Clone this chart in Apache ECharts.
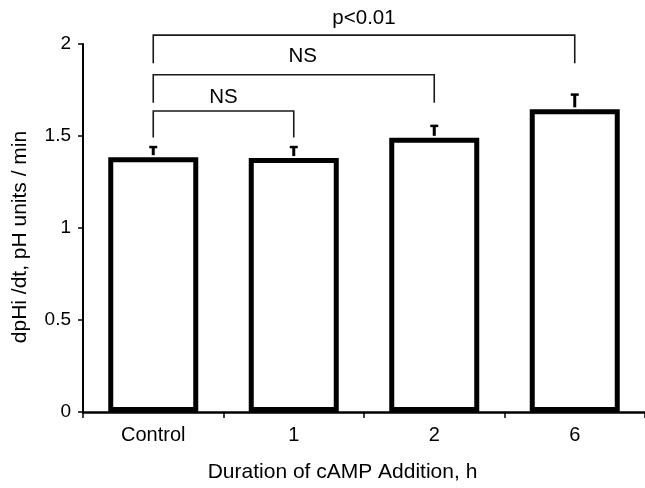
<!DOCTYPE html>
<html>
<head>
<meta charset="utf-8">
<script src="https://cdn.jsdelivr.net/npm/echarts@6/dist/echarts.min.js"></script>
<style>
  html, body { margin: 0; padding: 0; background: #fff; }
  #chart { width: 645px; height: 488px; }
</style>
</head>
<body>
<div id="chart"></div>
<script>
// ---- data ----
var categories = ['Control', '1', '2', '6'];
var means = [1.385, 1.38, 1.49, 1.645];
var errors = [0.055, 0.06, 0.065, 0.08];
var yTicks = [0, 0.5, 1, 1.5, 2];
// significance brackets: from category, to category, bracket level, left drop end, right drop end
var bracketFrom = ['Control', 'Control', 'Control'];
var bracketTo = ['6', '2', '1'];
var bracketLevel = [2.048, 1.833, 1.636];
var bracketDropLeft = [1.896, 1.681, 1.492];
var bracketDropRight = [1.896, 1.681, 1.492];
var bracketText = ['p<0.01', 'NS', 'NS'];

// ---- styles ----
var FONT = '"Liberation Sans", Arial, Helvetica, sans-serif';
var labelDx = [0, 9, 0];
var labelDy = [-16.5, -18, -14];

var chart = echarts.init(document.getElementById('chart'), null, { renderer: 'canvas' });

var errData = categories.map(function (c, i) { return [i, means[i], means[i] + errors[i]]; });
var bracketData = bracketFrom.map(function (f, i) {
  return [categories.indexOf(f), categories.indexOf(bracketTo[i]), bracketLevel[i], bracketDropLeft[i], bracketDropRight[i], i];
});

var option = {
  backgroundColor: '#fff',
  animation: false,
  grid: { left: 83, top: 44, width: 566, bottom: 72.5, containLabel: false },
  xAxis: {
    type: 'category',
    data: categories,
    name: 'Duration of cAMP Addition, h',
    nameLocation: 'middle',
    nameGap: 50,
    nameTextStyle: { fontFamily: FONT, fontSize: 21, color: '#000', padding: [0, 43, 0, 0] },
    axisLine: { lineStyle: { color: '#000', width: 2.5 } },
    axisTick: { show: true, length: 6, lineStyle: { color: '#000', width: 1.5 } },
    axisLabel: { fontFamily: FONT, fontSize: 20, color: '#000', margin: 13 },
    splitLine: { show: false }
  },
  yAxis: {
    type: 'value',
    min: yTicks[0],
    max: yTicks[yTicks.length - 1],
    interval: yTicks[1] - yTicks[0],
    name: 'dpHi /dt, pH units / min',
    nameLocation: 'middle',
    nameGap: 52,
    nameTextStyle: { fontFamily: FONT, fontSize: 21, color: '#000', padding: [0, 18, 0, 0] },
    axisLine: { show: true, lineStyle: { color: '#000', width: 2 } },
    axisTick: { show: true, length: 5, lineStyle: { color: '#000', width: 1.5 } },
    axisLabel: { fontFamily: FONT, fontSize: 19, color: '#000', margin: 12 },
    splitLine: { show: false }
  },
  series: [
    {
      type: 'bar',
      data: means,
      barWidth: 90,
      itemStyle: { color: '#fff', borderColor: '#000', borderWidth: 5 },
      z: 2
    },
    {
      type: 'custom',
      data: errData,
      clip: false,
      z: 3,
      renderItem: function (params, api) {
        var x = api.value(0);
        var lo = api.coord([x, api.value(1)]);
        var hi = api.coord([x, api.value(2)]);
        var hw = 4;
        return {
          type: 'group',
          children: [
            { type: 'line', shape: { x1: lo[0], y1: lo[1] - 2, x2: hi[0], y2: hi[1] },
              style: { stroke: '#000', lineWidth: 3 } },
            { type: 'line', shape: { x1: hi[0] - hw, y1: hi[1], x2: hi[0] + hw, y2: hi[1] },
              style: { stroke: '#000', lineWidth: 2.5 } }
          ]
        };
      }
    },
    {
      type: 'custom',
      data: bracketData,
      clip: false,
      z: 4,
      renderItem: function (params, api) {
        var a = api.value(0), b = api.value(1), lev = api.value(2);
        var i = api.value(5);
        var pL = api.coord([a, lev]);
        var pR = api.coord([b, lev]);
        var dL = api.coord([a, api.value(3)]);
        var dR = api.coord([b, api.value(4)]);
        return {
          type: 'group',
          children: [
            { type: 'polyline',
              shape: { points: [[dL[0], dL[1]], [pL[0], pL[1]], [pR[0], pR[1]], [dR[0], dR[1]]] },
              style: { stroke: '#1a1a1a', lineWidth: 1.6, fill: null } },
            { type: 'text',
              style: { text: bracketText[i], x: (pL[0] + pR[0]) / 2 + labelDx[i], y: pL[1] + labelDy[i],
                       textAlign: 'center', textVerticalAlign: 'middle',
                       font: '20.5px ' + FONT, fill: '#000' } }
          ]
        };
      }
    }
  ]
};
chart.setOption(option);
</script>
</body>
</html>
